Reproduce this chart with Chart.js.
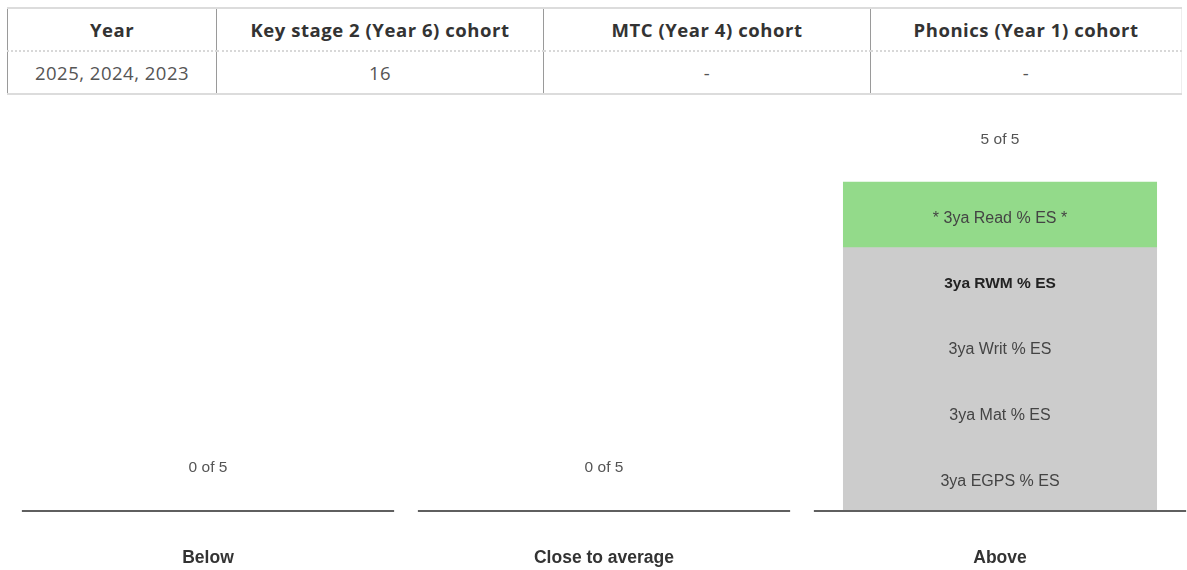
<!DOCTYPE html>
<html>
<head>
<meta charset="utf-8">
<script src="https://cdn.jsdelivr.net/npm/chart.js@4/dist/chart.umd.min.js"></script>
<style>
  html, body { margin: 0; padding: 0; background: #fff; overflow: hidden; width: 1187px; height: 570px; }
  #tbl { position: absolute; left: 7px; top: 7px; width: 1170px; border-collapse: collapse;
         font-family: "Open Sans", "Noto Sans", sans-serif; table-layout: fixed; }
  #tbl th, #tbl td { text-align: center; height: 41px; padding: 0; border-left: 1px solid #9a9a9a; }
  #tbl th { font-weight: bold; font-size: 18.5px; letter-spacing: 0.55px; color: #333; border-top: 2px solid #dcdcdc; border-bottom: 2px dotted #d8d8d8; }
  #tbl td { font-size: 18.5px; letter-spacing: 0.5px; color: #555; border-bottom: 2px solid #dcdcdc; }
  #tbl tr > *:last-child { border-right: 1px solid #eeeeee; }
  #wrap { position: absolute; left: 0; top: 100px; width: 1200px; height: 470px; }
</style>
</head>
<body>
<table id="tbl"><thead><tr id="hdr"></tr></thead><tbody><tr id="row"></tr></tbody></table>
<div id="wrap"><canvas id="c"></canvas></div>
<script>
// ---- table data ----
const tableHeaders = ['Year', 'Key stage 2 (Year 6) cohort', 'MTC (Year 4) cohort', 'Phonics (Year 1) cohort'];
const tableRow = ['2025, 2024, 2023', '16', '-', '-'];
const colWidths = [208, 326, 326, 310];

// ---- chart data ----
const categories = ['Below', 'Close to average', 'Above'];
// measures listed bottom -> top of the stack
const measures = ['3ya EGPS % ES', '3ya Mat % ES', '3ya Writ % ES', '3ya RWM % ES', '* 3ya Read % ES *'];
const egpsValues = [0, 0, 1];
const matValues = [0, 0, 1];
const writValues = [0, 0, 1];
const rwmValues = [0, 0, 1];
const readValues = [0, 0, 1];
const measureTotal = 5;
const highlighted = ['* 3ya Read % ES *'];
const boldMeasures = ['3ya RWM % ES'];

// build table
const hdr = document.getElementById('hdr');
const row = document.getElementById('row');
tableHeaders.forEach((h, i) => {
  const th = document.createElement('th'); th.textContent = h; th.style.width = colWidths[i] + 'px'; hdr.appendChild(th);
});
tableRow.forEach(v => { const td = document.createElement('td'); td.textContent = v; row.appendChild(td); });

const seriesValues = [egpsValues, matValues, writValues, rwmValues, readValues];
const datasets = measures.map((m, i) => ({
  label: m,
  data: seriesValues[i],
  backgroundColor: highlighted.includes(m) ? '#93da8a' : '#cccccc',
  borderWidth: 0,
  inflateAmount: 1,
  categoryPercentage: 1.0,
  barPercentage: 0.788
}));

const FONT = '"Liberation Sans", Arial, sans-serif';

const overlay = {
  id: 'overlay',
  afterDatasetsDraw(chart) {
    const ctx = chart.ctx;
    const x = chart.scales.x, y = chart.scales.y;
    const catW = x.width / categories.length;
    ctx.save();
    // segment labels
    chart.data.datasets.forEach((ds, di) => {
      const meta = chart.getDatasetMeta(di);
      meta.data.forEach((bar, i) => {
        if (!ds.data[i]) return;
        const cy = (bar.y + bar.base) / 2 + 3;
        const bold = boldMeasures.includes(ds.label);
        ctx.font = (bold ? 'bold ' : '') + (bold ? '15.5px ' : '16px ') + FONT;
        ctx.fillStyle = bold ? '#222' : '#444';
        ctx.textAlign = 'center'; ctx.textBaseline = 'middle';
        ctx.fillText(ds.label, bar.x, cy);
      });
    });
    // category baselines and counts
    categories.forEach((c, i) => {
      const cx = x.getPixelForValue(i);
      let sum = 0;
      chart.data.datasets.forEach(ds => { sum += ds.data[i] || 0; });
      ctx.strokeStyle = '#5f5f5f'; ctx.lineWidth = 2;
      ctx.beginPath();
      ctx.moveTo(cx - catW * 0.47, y.getPixelForValue(0));
      ctx.lineTo(cx + catW * 0.47, y.getPixelForValue(0));
      ctx.stroke();
      ctx.font = '15.5px ' + FONT; ctx.fillStyle = '#555';
      ctx.textAlign = 'center'; ctx.textBaseline = 'middle';
      ctx.fillText(sum + ' of ' + measureTotal, cx, y.getPixelForValue(sum) - 43);
    });
    ctx.restore();
  }
};

new Chart(document.getElementById('c'), {
  type: 'bar',
  data: { labels: categories, datasets },
  options: {
    responsive: true, maintainAspectRatio: false, animation: false,
    layout: { padding: { top: 17, left: 10, right: 2, bottom: 3 } },
    plugins: { legend: { display: false }, tooltip: { enabled: false } },
    scales: {
      x: { stacked: true, grid: { display: false, drawTicks: false }, border: { display: false },
           afterFit(scale) { scale.height = 56; },
           ticks: { padding: 37, color: '#333', font: { family: FONT, size: 17.5, weight: 'bold' } } },
      y: { stacked: true, display: false, min: 0, max: 6 }
    }
  },
  plugins: [overlay]
});
</script>
</body>
</html>
